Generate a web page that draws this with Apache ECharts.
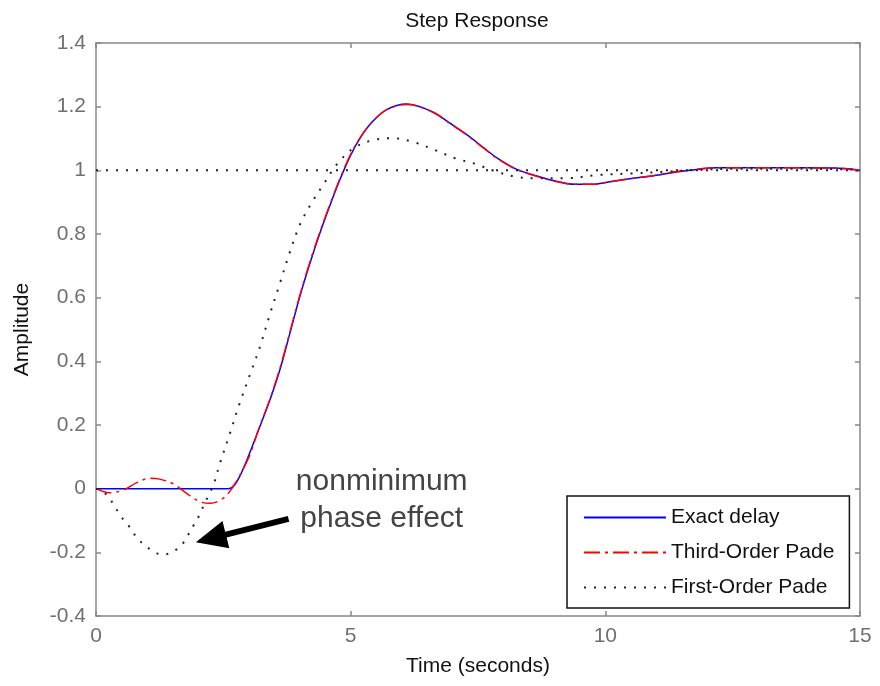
<!DOCTYPE html>
<html>
<head>
<meta charset="utf-8">
<script src="https://cdn.jsdelivr.net/npm/echarts@6/dist/echarts.min.js"></script>
<style>
  html, body { margin: 0; padding: 0; background: #fff; }
  #chart { width: 880px; height: 686px; }
</style>
</head>
<body>
<div id="chart"></div>
<script>
// values (time in seconds, amplitude)
const exactTime = [0, 2.6, 2.7, 2.82, 3.0, 3.2, 3.4, 3.6, 3.8, 4.0, 4.2, 4.4, 4.6, 4.8, 5.0, 5.2, 5.4, 5.7, 6.1, 6.6, 6.95, 7.3, 7.6, 7.9, 8.25, 8.6, 9.0, 9.4, 9.75, 10.15, 10.55, 10.95, 11.4, 11.7, 12.2, 13.2, 14.5, 15]
const exactAmp = [0, 0, 0.008, 0.038, 0.105, 0.188, 0.272, 0.368, 0.484, 0.603, 0.708, 0.805, 0.893, 0.975, 1.048, 1.105, 1.148, 1.19, 1.208, 1.184, 1.148, 1.11, 1.072, 1.036, 1.004, 0.985, 0.967, 0.956, 0.956, 0.966, 0.975, 0.983, 0.995, 1.001, 1.008, 1.008, 1.007, 1.0]

const pade3Time = [0, 0.27, 0.54, 0.8, 1.06, 1.25, 1.52, 1.78, 2.04, 2.24, 2.5, 2.69, 2.86, 3.02, 3.2, 3.4, 3.6, 3.8, 4.0, 4.2, 4.4, 4.6, 4.8, 5.0, 5.2, 5.4, 5.7, 6.1, 6.6, 6.95, 7.3, 7.6, 7.9, 8.25, 8.6, 9.0, 9.4, 9.75, 10.15, 10.55, 10.95, 11.4, 11.7, 12.2, 13.2, 14.5, 15]
const pade3Amp = [0, -0.013, -0.004, 0.019, 0.033, 0.03, 0.015, -0.015, -0.041, -0.046, -0.03, 0.006, 0.053, 0.106, 0.19, 0.275, 0.372, 0.488, 0.606, 0.712, 0.808, 0.896, 0.978, 1.05, 1.106, 1.148, 1.19, 1.207, 1.184, 1.147, 1.109, 1.071, 1.035, 1.003, 0.984, 0.966, 0.956, 0.956, 0.966, 0.975, 0.984, 0.996, 1.002, 1.008, 1.008, 1.007, 1.0]

const pade1Time = [0, 0.18, 0.34, 0.47, 0.63, 0.75, 0.9, 1.09, 1.29, 1.48, 1.68, 1.81, 1.92, 2.03, 2.12, 2.22, 2.31, 2.43, 2.63, 2.82, 3.02, 3.22, 3.41, 3.61, 3.8, 4.0, 4.23, 4.46, 4.72, 5.05, 5.44, 5.83, 6.25, 6.65, 7.05, 7.45, 7.84, 8.24, 8.63, 9.2, 9.9, 10.5, 11.2, 11.8, 12.5, 13.5, 14.5, 15]
const pade1Amp = [0, -0.015, -0.048, -0.083, -0.114, -0.143, -0.17, -0.193, -0.207, -0.201, -0.177, -0.145, -0.114, -0.083, -0.051, -0.017, 0.013, 0.078, 0.174, 0.268, 0.357, 0.446, 0.546, 0.645, 0.74, 0.828, 0.897, 0.954, 1.017, 1.069, 1.095, 1.101, 1.088, 1.064, 1.038, 1.02, 0.997, 0.98, 0.975, 0.975, 0.986, 0.99, 0.996, 1.001, 1.005, 1.005, 1.004, 1.002]

const steadyTime = [0, 15]
const steadyAmp = [1, 1]

const seriesNames = ['Exact delay', 'Third-Order Pade', 'First-Order Pade']

// annotation anchor points in data units
const noteText = ['nonminimum', 'phase effect']
const noteAt = [5.61, -0.035]
const arrowTail = [3.78, -0.095]
const arrowTip = [1.96, -0.168]

const font = 'Liberation Sans, Arial, sans-serif'
const axisGray = '#888'
const pair = (xs, ys) => xs.map((x, i) => [x, ys[i]])

const chart = echarts.init(document.getElementById('chart'))

const axisLine = { show: true, onZero: false, lineStyle: { color: axisGray, width: 1.5 } }
const axisTick = { show: true, inside: true, length: 5, lineStyle: { color: axisGray, width: 1.5 } }
const baseX = { type: 'value', min: 0, max: 15, interval: 5, splitLine: { show: false }, axisLine, axisTick }
const baseY = { type: 'value', min: -0.4, max: 1.4, interval: 0.2, splitLine: { show: false }, axisLine, axisTick }

chart.setOption({
  animation: false,
  backgroundColor: '#fff',
  title: {
    text: 'Step Response',
    left: 472,
    top: 6,
    textAlign: 'center',
    textStyle: { fontFamily: font, fontSize: 21, fontWeight: 'normal', color: '#111' },
  },
  grid: { left: 96, right: 20, top: 43, bottom: 70 },
  xAxis: [
    {
      ...baseX,
      position: 'bottom',
      name: 'Time (seconds)',
      nameLocation: 'middle',
      nameGap: 40,
      nameTextStyle: { fontFamily: font, fontSize: 21, color: '#111' },
      axisLabel: { fontFamily: font, fontSize: 21, color: '#707070', margin: 10 },
    },
    { ...baseX, position: 'top', axisLabel: { show: false } },
  ],
  yAxis: [
    {
      ...baseY,
      position: 'left',
      name: 'Amplitude',
      nameLocation: 'middle',
      nameGap: 63,
      nameTextStyle: { fontFamily: font, fontSize: 21, color: '#111' },
      axisLabel: {
        fontFamily: font, fontSize: 21, color: '#707070', margin: 10,
        formatter: v => String(Math.round(v * 10) / 10),
      },
    },
    { ...baseY, position: 'right', axisLabel: { show: false } },
  ],
  legend: {
    data: seriesNames,
    orient: 'vertical',
    left: 567,
    top: 496,
    padding: [11, 15, 10, 16],
    itemGap: 14,
    itemWidth: 82,
    itemHeight: 14,
    itemStyle: { opacity: 0 },
    backgroundColor: '#fff',
    borderColor: '#111',
    borderWidth: 1.5,
    borderRadius: 0,
    textStyle: { fontFamily: font, fontSize: 21, color: '#111' },
  },
  series: [
    {
      name: 'steady',
      type: 'line',
      data: pair(steadyTime, steadyAmp),
      symbol: 'none',
      silent: true,
      lineStyle: { color: '#222', width: 2, type: [2, 8] },
    },
    {
      name: seriesNames[0],
      type: 'line',
      data: pair(exactTime, exactAmp),
      symbol: 'none',
      smooth: 0.35,
      itemStyle: { color: '#0000ff' },
      lineStyle: { color: '#0000ff', width: 1.5 },
    },
    {
      name: seriesNames[1],
      type: 'line',
      data: pair(pade3Time, pade3Amp),
      symbol: 'none',
      smooth: 0.35,
      itemStyle: { color: '#ff0000' },
      lineStyle: { color: '#ff0000', width: 1.5, type: [16, 5, 3, 5] },
    },
    {
      name: seriesNames[2],
      type: 'line',
      data: pair(pade1Time, pade1Amp),
      symbol: 'none',
      smooth: 0.35,
      itemStyle: { color: '#222' },
      lineStyle: { color: '#222', width: 2, type: [2, 8] },
    },
  ],
})

// annotation: text and arrow placed through the chart's own coordinate system
function drawNote() {
  const c = chart.convertToPixel({ gridIndex: 0 }, noteAt)
  const tail = chart.convertToPixel({ gridIndex: 0 }, arrowTail)
  const tip = chart.convertToPixel({ gridIndex: 0 }, arrowTip)
  const dx = tail[0] - tip[0], dy = tail[1] - tip[1]
  const len = Math.hypot(dx, dy)
  const ux = dx / len, uy = dy / len
  const nx = -uy, ny = ux
  const headLen = 31, headHalf = 14, shaftHalf = 3
  const neck = [tip[0] + ux * headLen, tip[1] + uy * headLen]
  const pts = [
    tip,
    [neck[0] + nx * headHalf, neck[1] + ny * headHalf],
    [neck[0] + nx * shaftHalf, neck[1] + ny * shaftHalf],
    [tail[0] + nx * shaftHalf, tail[1] + ny * shaftHalf],
    [tail[0] - nx * shaftHalf, tail[1] - ny * shaftHalf],
    [neck[0] - nx * shaftHalf, neck[1] - ny * shaftHalf],
    [neck[0] - nx * headHalf, neck[1] - ny * headHalf],
  ]
  chart.setOption({
    graphic: [
      {
        type: 'text',
        x: c[0],
        y: c[1],
        style: {
          text: noteText.join('\n'),
          fontFamily: font,
          fontSize: 30,
          lineHeight: 37,
          fill: '#444',
          align: 'center',
          verticalAlign: 'middle',
        },
      },
      { type: 'polygon', shape: { points: pts }, style: { fill: '#000' } },
    ],
  })
}
drawNote()
</script>
</body>
</html>
